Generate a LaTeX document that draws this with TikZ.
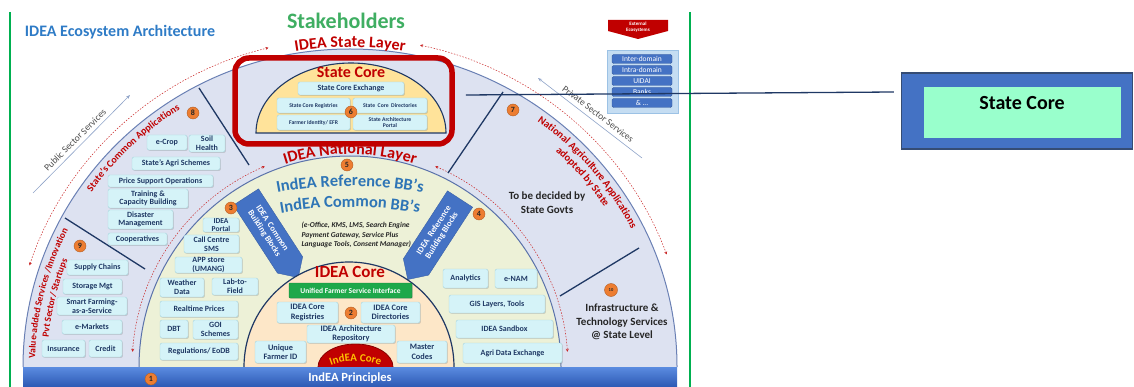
\documentclass[tikz,border=0pt]{standalone}
\usepackage{fontspec}
\setmainfont{Carlito}
\usetikzlibrary{shapes.symbols,decorations.text,shadows,arrows.meta}
\definecolor{navy}{HTML}{1F3864}
\definecolor{lav}{HTML}{DDE2F1}
\definecolor{natfill}{HTML}{EDF1D7}
\definecolor{natline}{HTML}{5A72AA}
\definecolor{corefill}{HTML}{FDE7C8}
\definecolor{scfill}{HTML}{FFE39A}
\definecolor{bxfill}{HTML}{D5F3F8}
\definecolor{bxedge}{HTML}{A8D5DE}
\definecolor{dred}{HTML}{C00000}
\definecolor{arcline}{HTML}{6A80B4}
\definecolor{orng}{HTML}{ED7D31}
\definecolor{bblue}{HTML}{4472C4}
\definecolor{ttlblue}{HTML}{2E7BC6}
\definecolor{stkgreen}{HTML}{3FAE62}
\definecolor{vgreen}{HTML}{00B050}
\definecolor{mint}{HTML}{99FFCC}
\definecolor{bbtext}{HTML}{2E75B6}
\definecolor{ufsicol}{HTML}{1EA84A}
\definecolor{gold}{HTML}{FFC000}
\definecolor{extfill}{HTML}{C5DDF2}
\definecolor{extedge}{HTML}{9CC2E5}
\definecolor{grayarrow}{HTML}{8FA3C8}
\definecolor{barTop}{HTML}{5A8BE0}
\definecolor{barBot}{HTML}{2C58B3}
\newcommand\fsz[1]{\fontsize{#1}{#1}\selectfont}
\begin{document}
\begin{tikzpicture}[x=1pt,y=-1pt,
  bx/.style={draw=bxedge, fill=bxfill, rounded corners=2pt, inner sep=0.5pt, align=center, text=navy,
    font=\bfseries\fontsize{8}{8.6}\selectfont,
    drop shadow={opacity=0.3, shadow xshift=0.9pt, shadow yshift=-0.9pt}},
  bxs/.style={bx, font=\bfseries\fontsize{5.7}{6.4}\selectfont},
  bxc/.style={bx, font=\bfseries\fontsize{8.3}{9.4}\selectfont},
  sz/.style 2 args={minimum width=#1, minimum height=#2},
  num/.style={circle, fill=orng, draw=orng!75!black, line width=0.4pt, inner sep=0pt, minimum size=12,
    font=\bfseries\fsz{8}, text=black!85},
  divln/.style={draw=navy, line width=1.3pt},
  dashln/.style={draw=dred!85, dash pattern=on 1.5pt off 1.5pt, line width=0.5pt,
    {Stealth[length=3pt,width=3pt]}-{Stealth[length=3pt,width=3pt]}},
  sig/.style={shape=signal, fill=bblue, draw=bblue!85!black, text=white, align=center, inner sep=1pt,
    font=\bfseries\fontsize{8.5}{9.5}\selectfont},
  arctxt/.style={decorate, decoration={text along path, text align=center, text={#1}}},
  extbar/.style={fill=bblue, draw=bblue!80!black, rounded corners=1.5pt, minimum width=60, minimum height=9,
    inner sep=0pt, text=white, font=\fsz{7.5}},
  link/.style={draw=navy, line width=1.3pt},
  sectarrow/.style={draw=grayarrow, line width=0.6pt},
  darktxt/.style={text=black!85, align=center, font=\bfseries\fontsize{11}{13.5}\selectfont}
]
\useasboundingbox (0,0) rectangle (1134,387);

% green frame lines
\draw[vgreen, line width=1.8pt] (10,12) -- (10,387);
\draw[vgreen, line width=1.8pt] (690,12) -- (690,387);

% outer (state) layer
\path[fill=lav, draw=arcline, line width=1pt] (23,367) arc[start angle=180, end angle=360, x radius=327, y radius=318];
\draw[dashln] (350,367) ++(198:337 and 329) arc[start angle=198, end angle=256, x radius=337, y radius=329];
\draw[dashln] (350,367) ++(282:337 and 329) arc[start angle=282, end angle=340, x radius=337, y radius=329];

% national layer
\path[fill=natfill, draw=natline, line width=1pt] (139,367) arc[start angle=180, end angle=360, radius=211];
\draw[dashln] (350,367) ++(184:218) arc[start angle=184, end angle=247, radius=218];
\draw[dashln] (350,367) ++(293:218) arc[start angle=293, end angle=356, radius=218];

% building block arrows
\node[sig, signal to=east, rotate=-57, minimum width=96, minimum height=30] (cbb) at (268,231) {IDEA\ \ Common\\Building Blocks};
\node[sig, signal to=west, rotate=57, minimum width=96, minimum height=30] (rbb) at (438,233) {IDEA\ \ Reference\\Building Blocks};

% IDEA core
\path[fill=corefill, draw=navy, line width=1.2pt] (244,367) arc[start angle=180, end angle=360, radius=105];
\path[fill=dred, draw=dred!70!black, line width=0.8pt] (318,367) arc[start angle=180, end angle=360, x radius=37.5, y radius=23];

% bottom bar
\node[top color=barTop, bottom color=barBot, minimum width=654, minimum height=20, anchor=north west, inner sep=0pt] (bar) at (23,367) {};
\node[text=white, font=\bfseries\fsz{12.5}] (princ) at (350,378.5) {IndEA Principles};

% state core
\path[fill=scfill, draw=navy, line width=1.1pt] (256,133) arc[start angle=180, end angle=360, x radius=95, y radius=70] -- cycle;

% dividers
\draw[divln] (199,88) -- (249,165);
\draw[divln] (503,92) -- (448,173);
\draw[divln] (65,218) -- (145,269);
\draw[divln] (560,296) -- (639,248);

% sector arrows
\draw[sectarrow, -{Stealth[length=4pt,width=3pt]}] (33,193) -- (130,95);
\node[rotate=45, font=\fsz{9.5}, text=black!70] (pubs) at (75,140) {Public Sector Services};
\draw[sectarrow, {Stealth[length=4pt,width=3pt]}-] (538,78) -- (642,158);
\node[rotate=-37.5, font=\fsz{9.5}, text=black!70] (pvts) at (598,114) {Private Sector Services};

% titles
\node[font=\bfseries\fsz{16}, text=ttlblue] (title) at (120,32) {IDEA Ecosystem Architecture};
\node[font=\bfseries\fsz{22}, text=stkgreen] (stake) at (346,21) {Stakeholders};

% arc texts
\path[arctxt={|\bfseries\fsz{16}\color{dred}|IDEA State Layer}] (350,367) ++(250:329 and 320) arc[start angle=250, end angle=290, x radius=329, y radius=320];
\path[arctxt={|\bfseries\fsz{16}\color{dred}|IDEA National Layer}] (350,367) ++(245:213) arc[start angle=245, end angle=295, radius=213];
\path[arctxt={|\bfseries\fsz{10}\color{dred}|State’s Common Applications}] (350,367) ++(201:315 and 306) arc[start angle=201, end angle=251, x radius=315, y radius=306];
\path[arctxt={|\bfseries\fsz{9.5}\color{dred}|Value-added Services /Innovation}] (350,367) ++(174:315 and 306) arc[start angle=174, end angle=214, x radius=315, y radius=306];
\path[arctxt={|\bfseries\fsz{9.5}\color{dred}|Pvt Sector/ Startups}] (350,367) ++(174:303 and 294) arc[start angle=174, end angle=213, x radius=303, y radius=294];
\path[arctxt={|\bfseries\fsz{10.5}\color{dred}|National Agriculture Applications}] (350,367) ++(295:315 and 306) arc[start angle=295, end angle=345, x radius=315, y radius=306];
\path[arctxt={|\bfseries\fsz{10.5}\color{dred}|adopted by State}] (350,367) ++(300:303 and 294) arc[start angle=300, end angle=340, x radius=303, y radius=294];
\path[arctxt={|\bfseries\fsz{16.5}\color{bbtext}|IndEA Reference BB’s}] (350,586) ++(250:400) arc[start angle=250, end angle=290, radius=400];
\path[arctxt={|\bfseries\fsz{16.5}\color{bbtext}|IndEA Common BB’s}] (350,607) ++(250:400) arc[start angle=250, end angle=290, radius=400];
\path[arctxt={|\bfseries\fsz{11}\color{gold}|IndEA Core}] (355.5,431) ++(235:70) arc[start angle=235, end angle=305, radius=70];

% core labels
\node[font=\bfseries\fsz{16}, text=dred] (sclbl) at (351,72) {State Core};
\node[font=\bfseries\fsz{17}, text=dred] (iclbl) at (350,272) {IDEA Core};
\node[anchor=west, align=left, text=black!85, font=\bfseries\itshape\fontsize{7.5}{9.5}\selectfont] (bbnote) at (298,235)
  {(e-Office, KMS, LMS, Search Engine\\Payment Gateway, Service Plus\\Language Tools, Consent Manager)};
\node[darktxt] (tbd) at (547,202.5) {To be decided by\\State Govts};
\node[darktxt] (infra) at (622,322) {Infrastructure \&\\Technology Services\\@ State Level};

% state core boxes
\node[bx, sz={106}{13}] (sce) at (351,88.5) {State Core Exchange};
\node[bxs, sz={73}{15}] (scr) at (313.5,105.5) {State Core Registries};
\node[bxs, sz={74}{15}] (scd) at (390,105.5) {State\ \ Core\ \ Directories};
\node[bxs, sz={73}{15}] (fid) at (313.5,122.5) {Farmer Identity/ EFR};
\node[bxs, sz={74}{15}] (sap) at (390,122.5) {State Architecture\\Portal};

% group 8
\node[bx, sz={40}{15}] (ecrop) at (167,142.5) {e-Crop};
\node[bx, sz={36}{17}] (soil) at (207,143.5) {Soil\\Health};
\node[bx, sz={88}{13}] (sas) at (176,163.5) {State’s Agri Schemes};
\node[bx, sz={105}{12}] (pso) at (160.5,181) {Price Support Operations};
\node[bx, sz={80}{19}] (tcb) at (148,198.5) {Training \&\\Capacity Building};
\node[bx, sz={65}{19}] (dmg) at (140.5,219.5) {Disaster\\Management};
\node[bx, sz={59}{12}] (coop) at (137.5,239) {Cooperatives};

% group 9
\node[bx, sz={61}{15}] (supc) at (97.5,267.5) {Supply Chains};
\node[bx, sz={59}{15}] (smgt) at (92.5,286.5) {Storage Mgt};
\node[bx, sz={70}{18}] (sfaas) at (92,306) {Smart Farming-\\as-a-Service};
\node[bx, sz={60}{14}] (emk) at (92,327) {e-Markets};
\node[bx, sz={43}{17}] (ins) at (63.5,348.5) {Insurance};
\node[bx, sz={33}{17}] (cred) at (105.5,348.5) {Credit};

% group 3
\node[bx, sz={36}{14}, font=\bfseries\fontsize{7.5}{7.5}\selectfont, inner sep=0pt] (iportal) at (221,225) {IDEA\\Portal};
\node[bx, sz={55}{18}] (ccs) at (211.5,244) {Call Centre\\SMS};
\node[bx, sz={67}{16}] (apps) at (208.5,265) {APP store\\(UMANG)};
\node[bx, sz={44}{19}] (wd) at (182,287.5) {Weather\\Data};
\node[bx, sz={46}{17}] (ltf) at (235,286.5) {Lab-to-\\Field};
\node[bx, sz={78}{16}] (rtp) at (199,309) {Realtime Prices};
\node[bx, sz={28}{18}] (dbt) at (174,329) {DBT};
\node[bx, sz={45}{19}] (goi) at (215.5,329.5) {GOI\\Schemes};
\node[bx, sz={78}{17}] (reg) at (199,351.5) {Regulations/ EoDB};

% IDEA core boxes
\node[draw=ufsicol!80!black, fill=ufsicol, rounded corners=1pt, text=white, font=\bfseries\fsz{7.5}, sz={123}{15}, inner sep=0.5pt,
  drop shadow={opacity=0.3, shadow xshift=0.9pt, shadow yshift=-0.9pt}] (ufsi) at (350.5,290.5) {Unified Farmer Service Interface};
\node[bxc, sz={61}{21}] (icr) at (307.5,312.5) {IDEA Core\\Registries};
\node[bxc, sz={59}{21}] (icd) at (390.5,312.5) {IDEA Core\\Directories};
\node[bxc, sz={88}{18}] (iar) at (351,334) {IDEA Architecture\\Repository};
\node[bxc, sz={51}{22}] (ufid) at (280.5,352) {Unique\\Farmer ID};
\node[bxc, sz={50}{22}] (mcod) at (422,352) {Master\\Codes};

% group 4
\node[bx, sz={45}{19}] (anl) at (465.5,278.5) {Analytics};
\node[bx, sz={42}{19}] (enam) at (516,278.5) {e-NAM};
\node[bx, sz={96}{18}] (gis) at (497,304) {GIS Layers, Tools};
\node[bx, sz={97}{18}] (sbx) at (504.5,329) {IDEA Sandbox};
\node[bx, sz={99}{20}] (ade) at (512.5,353) {Agri Data Exchange};

% numbered circles
\node[num] (n8) at (193,113) {8};
\node[num] (n6) at (351,112) {6};
\node[num] (n7) at (513,110) {7};
\node[num] (n5) at (347,165) {5};
\node[num] (n3) at (231,208) {3};
\node[num] (n4) at (479,214) {4};
\node[num] (n9) at (80,246) {9};
\node[num] (n2) at (351,313) {2};
\node[num, minimum size=13, font=\bfseries\fsz{4.5}] (n10) at (611,290) {10};
\node[num] (n1) at (151,379) {1};

% external ecosystems
\fill[dred] (608,20) -- (668,20) -- (668,31) -- (638,39) -- (608,31) -- cycle;
\node[text=white, align=center, font=\bfseries\fontsize{5}{5.5}\selectfont] (extlbl) at (638,27) {External\\Ecosystems};
\node[fill=extfill, draw=extedge, line width=0.8pt, sz={71}{63}] (extbox) at (642.5,81.5) {};
\node[extbar] (e1) at (642,59) {Inter-domain};
\node[extbar] (e2) at (642,70) {Intra-domain};
\node[extbar] (e3) at (642,81) {UIDAI};
\node[extbar] (e4) at (642,92) {Banks};
\node[extbar] (e5) at (642,103) {\& ...};

% highlight and call-out
\node[draw=dred, line width=5.5pt, rounded corners=14pt, sz={217}{86}] (screct) at (343.5,101) {};
\node[draw=navy!90, line width=1.2pt, fill=bblue, sz={231}{76}, inner sep=0pt] (rbox) at (1017,111) {};
\node[fill=mint, sz={197}{51}, inner sep=0pt] (rin) at (1022.5,112.5) {};
\node[font=\bfseries\fsz{20}, text=black] (rlbl) at (1022,103) {State Core};
\draw[link] ([shift={(11,-6)}]screct.east) -- ([shift={(-7,-19)}]rbox.west);
\end{tikzpicture}
\end{document}
